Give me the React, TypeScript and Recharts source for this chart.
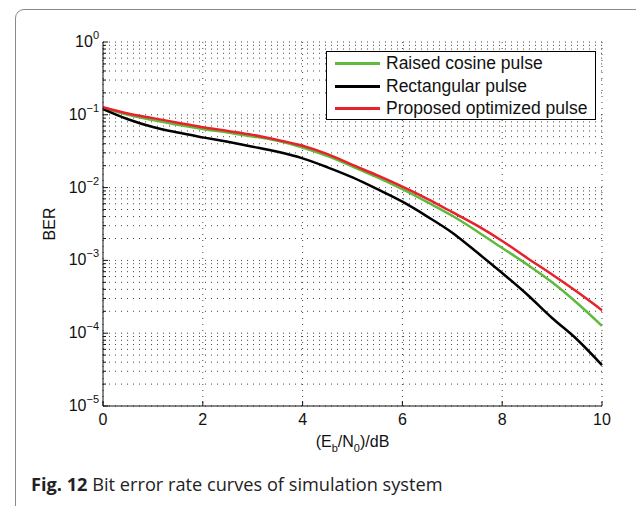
import { CartesianGrid, Legend, Line, LineChart, XAxis, YAxis } from "recharts";

// Eb/N0 in dB
const snr = [0, 0.5, 1, 1.5, 2, 2.5, 3, 3.5, 4, 4.5, 5, 5.5, 6, 6.5, 7, 7.5, 8, 8.5, 9, 9.5, 10];

const raisedCosine = [
  0.125, 0.1, 0.085, 0.073, 0.064, 0.057, 0.0505, 0.0438, 0.0355, 0.027, 0.0195, 0.0138, 0.0095, 0.0063, 0.0041,
  0.0025, 0.00148, 0.00088, 0.0005, 0.00026, 0.000126,
];
const rectangular = [
  0.12, 0.087, 0.068, 0.057, 0.049, 0.0425, 0.0365, 0.031, 0.0252, 0.019, 0.0138, 0.0095, 0.0064, 0.004, 0.0024,
  0.00128, 0.00067, 0.00034, 0.000162, 0.000082, 0.0000365,
];
const proposed = [
  0.127, 0.104, 0.09, 0.078, 0.0675, 0.06, 0.053, 0.0452, 0.0376, 0.0288, 0.0205, 0.0147, 0.0103, 0.007, 0.0046,
  0.003, 0.00185, 0.00108, 0.00064, 0.00037, 0.000207,
];

const seriesNames = ["Raised cosine pulse", "Rectangular pulse", "Proposed optimized pulse"];

const xTicks = [0, 2, 4, 6, 8, 10];
const decades = [1e-5, 1e-4, 1e-3, 1e-2, 1e-1, 1];
const minorSteps = [2, 3, 4, 5, 6, 7, 8, 9];

const yTicks = [...decades, ...decades.slice(0, -1).flatMap((d) => minorSteps.map((m) => m * d))].sort((a, b) => a - b);

const data = snr.map((x, i) => ({ x, raised: raisedCosine[i], rect: rectangular[i], proposed: proposed[i] }));

const FONT = "'Liberation Sans', Arial, Helvetica, sans-serif";
const INK = "#111";

const isMajor = (v: number) => {
  const e = Math.log10(v);
  return Math.abs(e - Math.round(e)) < 1e-6;
};

const BottomTick = ({ x, y, payload }: any) => (
  <g>
    <line x1={x} x2={x} y1={y} y2={y - 5} stroke={INK} />
    <text x={x} y={y + 19} textAnchor="middle" fontSize={16} fontFamily={FONT} fill={INK}>
      {payload.value}
    </text>
  </g>
);

const TopTick = ({ x, y }: any) => <line x1={x} x2={x} y1={y} y2={y + 5} stroke={INK} />;

const LeftTick = ({ x, y, payload }: any) => {
  const major = isMajor(payload.value);
  const exp = Math.round(Math.log10(payload.value));
  return (
    <g>
      <line x1={x} x2={x + (major ? 5 : 3)} y1={y} y2={y} stroke={INK} />
      {major && (
        <text x={x - 4} y={y + 5} textAnchor="end" fontSize={16} fontFamily={FONT} fill={INK}>
          10
          <tspan dy={-8} fontSize={11}>
            {exp < 0 ? `\u2212${-exp}` : exp}
          </tspan>
        </text>
      )}
    </g>
  );
};

const RightTick = ({ x, y, payload }: any) => (
  <line x1={x} x2={x - (isMajor(payload.value) ? 5 : 3)} y1={y} y2={y} stroke={INK} />
);

const LegendBox = ({ payload }: any) => {
  const items = [...(payload ?? [])].sort((a: any, b: any) => seriesNames.indexOf(a.value) - seriesNames.indexOf(b.value));
  return (
    <div
      style={{
        boxSizing: "border-box",
        width: 270,
        height: 69,
        border: "1px solid #000",
        background: "#fff",
        padding: "0 0 0 8px",
        fontFamily: FONT,
        fontSize: 17.5,
        lineHeight: "22.7px",
        color: INK,
        textAlign: "left",
      }}
    >
      {items.map((p: any) => (
        <div key={p.value} style={{ display: "flex", alignItems: "center", whiteSpace: "nowrap" }}>
          <span style={{ display: "inline-block", width: 45, height: 3, background: p.color, marginRight: 6 }} />
          {p.value}
        </div>
      ))}
    </div>
  );
};

export default function App() {
  return (
    <div style={{ position: "absolute", left: 0, top: 0, width: 636, height: 506, overflow: "hidden", background: "#fff" }}>
      <div
        style={{
          position: "absolute",
          left: 15,
          top: 9,
          width: 660,
          height: 540,
          border: "1px solid #8a8a8a",
          borderRadius: 9,
        }}
      />
      <LineChart width={636} height={506} data={data} margin={{ top: 42, right: 34, bottom: 70, left: 43 }}>
        <CartesianGrid stroke="#444" strokeDasharray="1 5" />
        <XAxis
          dataKey="x"
          type="number"
          domain={[0, 10]}
          ticks={xTicks}
          interval={0}
          tickSize={0}
          tickMargin={0}
          tickLine={false}
          axisLine={{ stroke: INK }}
          tick={BottomTick}
          label={{
            content: ({ viewBox }: any) => (
              <text
                x={viewBox.x + viewBox.width / 2}
                y={viewBox.y + 41}
                textAnchor="middle"
                fontSize={16}
                fontFamily={FONT}
                fill={INK}
              >
                (E<tspan dy={5} fontSize={11}>b</tspan>
                <tspan dy={-5}>/N</tspan>
                <tspan dy={5} fontSize={11}>0</tspan>
                <tspan dy={-5}>)/dB</tspan>
              </text>
            ),
          }}
        />
        <XAxis
          xAxisId="top"
          orientation="top"
          type="number"
          domain={[0, 10]}
          ticks={xTicks}
          interval={0}
          height={0}
          tickSize={0}
          tickMargin={0}
          tickLine={false}
          axisLine={{ stroke: INK }}
          tick={TopTick}
        />
        <YAxis
          type="number"
          scale="log"
          domain={[1e-5, 1]}
          allowDataOverflow
          ticks={yTicks}
          interval={0}
          width={60}
          tickSize={0}
          tickMargin={0}
          tickLine={false}
          axisLine={{ stroke: INK }}
          tick={LeftTick}
          label={{
            content: ({ viewBox }: any) => (
              <text
                x={49}
                y={viewBox.y + viewBox.height / 2}
                transform={`rotate(-90 49 ${viewBox.y + viewBox.height / 2})`}
                textAnchor="middle"
                dominantBaseline="central"
                fontSize={16}
                fontFamily={FONT}
                fill={INK}
              >
                BER
              </text>
            ),
          }}
        />
        <YAxis
          yAxisId="right"
          orientation="right"
          type="number"
          scale="log"
          domain={[1e-5, 1]}
          allowDataOverflow
          ticks={yTicks}
          interval={0}
          width={0}
          tickSize={0}
          tickMargin={0}
          tickLine={false}
          axisLine={{ stroke: INK }}
          tick={RightTick}
        />
        <Legend
          layout="vertical"
          align="center"
          verticalAlign="middle"
          wrapperStyle={{ left: 326, top: 51, width: 270, height: 69 }}
          content={LegendBox}
        />
        <Line
          name={seriesNames[0]}
          dataKey="raised"
          stroke="#5fba3e"
          strokeWidth={2.5}
          dot={false}
          type="monotone"
          isAnimationActive={false}
        />
        <Line
          name={seriesNames[1]}
          dataKey="rect"
          stroke="#000"
          strokeWidth={2.5}
          dot={false}
          type="monotone"
          isAnimationActive={false}
        />
        <Line
          name={seriesNames[2]}
          dataKey="proposed"
          stroke="#e8212a"
          strokeWidth={2.5}
          dot={false}
          type="monotone"
          isAnimationActive={false}
        />
      </LineChart>
      <div
        style={{
          position: "absolute",
          left: 31,
          top: 472,
          fontFamily: "'Open Sans', 'Noto Sans', sans-serif",
          fontSize: 18.2,
          color: "#222",
          whiteSpace: "nowrap",
        }}
      >
        <b>Fig. 12</b> Bit error rate curves of simulation system
      </div>
    </div>
  );
}
